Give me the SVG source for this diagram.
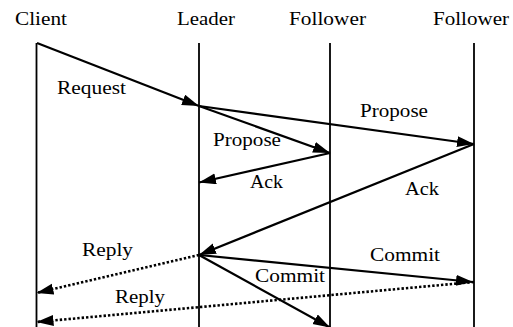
<svg xmlns="http://www.w3.org/2000/svg" width="513" height="327" viewBox="0 0 513 327" font-family="Liberation Serif, serif" font-size="19">
  <style>
    .t { font-family: 'Liberation Serif', serif; font-size: 19px; fill: #000; }
    .life { stroke: #000; stroke-width: 1.8; fill: none; }
    .msg { stroke: #000; stroke-width: 2.2; fill: none; marker-end: url(#arr); }
    .dot { stroke: #000; stroke-width: 2.6; fill: none; stroke-dasharray: 2.4 2; marker-end: url(#arr); }
  </style>
  <defs>
    <marker id="arr" markerUnits="userSpaceOnUse" markerWidth="18" markerHeight="12" refX="17" refY="5.5" orient="auto" viewBox="0 0 18 12">
      <path d="M0,0 L17,5.5 L0,11 z" fill="#000"/>
    </marker>
  </defs>
  <rect width="513" height="327" fill="#fff"/>

  <g id="client">
    <text class="t" x="15" y="25" textLength="52" lengthAdjust="spacingAndGlyphs">Client</text>
    <line class="life" x1="36.5" y1="43" x2="36.5" y2="327"/>
  </g>
  <g id="leader">
    <text class="t" x="177" y="25" textLength="58" lengthAdjust="spacingAndGlyphs">Leader</text>
    <line class="life" x1="199" y1="43" x2="199" y2="327"/>
  </g>
  <g id="follower1">
    <text class="t" x="289" y="25" textLength="77" lengthAdjust="spacingAndGlyphs">Follower</text>
    <line class="life" x1="330" y1="43" x2="330" y2="327"/>
  </g>
  <g id="follower2">
    <text class="t" x="433" y="25" textLength="76" lengthAdjust="spacingAndGlyphs">Follower</text>
    <line class="life" x1="474" y1="43" x2="474" y2="327"/>
  </g>

  <g id="connectors">
    <line class="msg" x1="37" y1="43" x2="199" y2="106"/>
    <line class="msg" x1="199" y1="106" x2="474" y2="144"/>
    <line class="msg" x1="199" y1="106" x2="330" y2="153"/>
    <line class="msg" x1="330" y1="153" x2="199" y2="182.5"/>
    <line class="msg" x1="474" y1="144" x2="199" y2="255"/>
    <line class="dot" x1="199" y1="255" x2="36.5" y2="293"/>
    <line class="msg" x1="199" y1="255" x2="473" y2="282"/>
    <line class="msg" x1="199" y1="255" x2="330" y2="327.5"/>
    <line class="dot" x1="474" y1="282" x2="36.5" y2="322"/>
  </g>

  <g id="labels">
    <text class="t" x="57" y="94" textLength="69" lengthAdjust="spacingAndGlyphs">Request</text>
    <text class="t" x="360" y="117" textLength="68" lengthAdjust="spacingAndGlyphs">Propose</text>
    <text class="t" x="213" y="146" textLength="68" lengthAdjust="spacingAndGlyphs">Propose</text>
    <text class="t" x="250" y="188" textLength="33" lengthAdjust="spacingAndGlyphs">Ack</text>
    <text class="t" x="405" y="195" textLength="34" lengthAdjust="spacingAndGlyphs">Ack</text>
    <text class="t" x="82" y="256" textLength="51" lengthAdjust="spacingAndGlyphs">Reply</text>
    <text class="t" x="370" y="261" textLength="70" lengthAdjust="spacingAndGlyphs">Commit</text>
    <text class="t" x="255" y="282" textLength="70" lengthAdjust="spacingAndGlyphs">Commit</text>
    <text class="t" x="115" y="303" textLength="50" lengthAdjust="spacingAndGlyphs">Reply</text>
  </g>
</svg>
